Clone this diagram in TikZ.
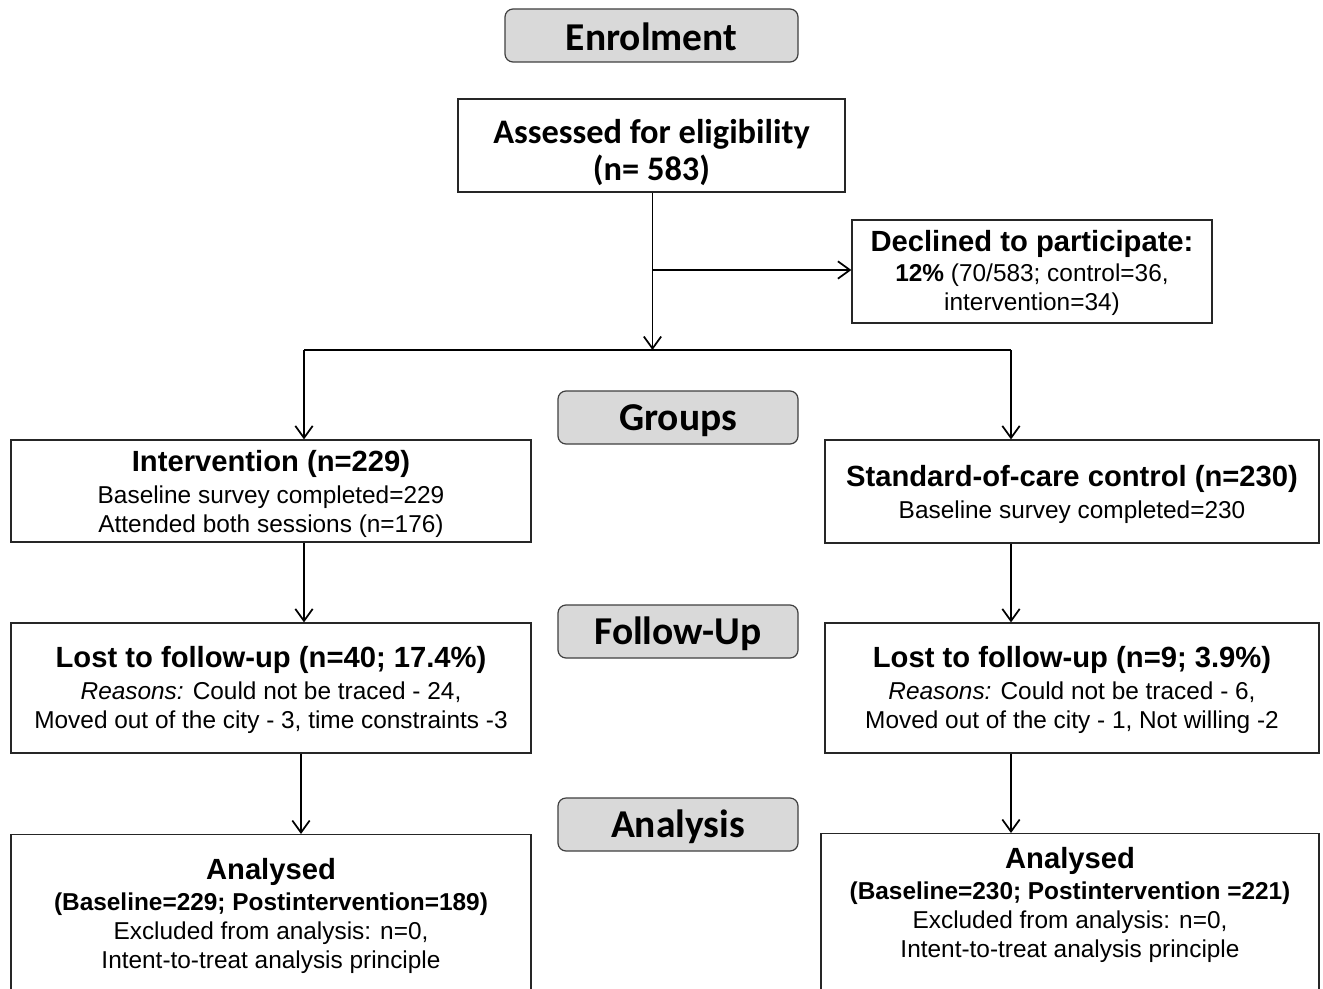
\documentclass[tikz,border=0pt]{standalone}
\usepackage{fontspec}
\setmainfont{Liberation Sans}
\newfontfamily\calfont{Carlito}
\usetikzlibrary{arrows.meta}
\newcommand\bodyfont{\fontsize{18.3}{21.75}\selectfont}
\newcommand\ttlfont{\bfseries\fontsize{21.9}{24}\selectfont}
\begin{document}
\begin{tikzpicture}[x=0.75pt,y=-0.75pt,
  box/.style={draw=black!85, line width=0.9pt, fill=white, align=center, inner sep=0pt, font=\bodyfont},
  txt/.style={align=center, inner sep=0pt, font=\bodyfont},
  hdr/.style={draw=black!75, line width=0.9pt, fill=black!15, rounded corners=6pt, minimum width=240*0.75pt, minimum height=53*0.75pt, inner sep=0pt, text height=19pt, text depth=0pt, font=\calfont\bfseries\fontsize{29.6}{32}\selectfont},
  arr/.style={line width=1.4pt, -{Straight Barb[length=9pt,width=13pt,line width=1.3pt]}},
  ln/.style={line width=1.4pt}
]
\clip (0,0) rectangle (1323,988);
\fill[white] (0,0) rectangle (1323,988);

% headers
\node[hdr, minimum width=293*0.75pt, text height=23pt] (enrol) at (651.5,35.5) {Enrolment};
\node[hdr] (groups) at (678,417.5) {Groups};
\node[hdr] (follow) at (678,631.5) {Follow-Up};
\node[hdr] (analysis) at (678,824.5) {Analysis};

% boxes
\node[box, minimum width=387*0.75pt, minimum height=93*0.75pt, font=\calfont\bfseries\fontsize{25.8}{27.75}\selectfont] (assess) at (651.5,145.5) {\rule{0pt}{28pt}Assessed for eligibility\\(n= 583)};

\node[box, minimum width=360*0.75pt, minimum height=103*0.75pt] (declined) at (1032,271.5)
  {\rule{0pt}{18pt}{\ttlfont Declined to participate:}\\[1pt]\textbf{12\%} (70/583; control=36,\\intervention=34)};

\node[box, minimum width=520*0.75pt, minimum height=102*0.75pt] (interv) at (271,491)
  {\rule{0pt}{20pt}{\ttlfont Intervention (n=229)}\\[2pt]Baseline survey completed=229\\Attended both sessions (n=176)};

\node[box, minimum width=494*0.75pt, minimum height=103*0.75pt] (control) at (1072,491.5)
  {\rule{0pt}{20pt}{\ttlfont Standard-of-care control (n=230)}\\[2pt]Baseline survey completed=230};

\node[box, minimum width=520*0.75pt, minimum height=130*0.75pt] (lostL) at (271,688)
  {\rule{0pt}{19pt}{\ttlfont Lost to follow-up (n=40; 17.4\%)}\\[2pt]\textit{Reasons:} Could not be traced - 24,\\Moved out of the city - 3, time constraints -3};

\node[box, minimum width=494*0.75pt, minimum height=130*0.75pt] (lostR) at (1072,688)
  {\rule{0pt}{19pt}{\ttlfont Lost to follow-up (n=9; 3.9\%)}\\[2pt]\textit{Reasons:} Could not be traced - 6,\\Moved out of the city - 1, Not willing -2};

\node[box, minimum width=520*0.75pt, minimum height=180*0.75pt, anchor=north] (anaL) at (271,834) {};
\node[txt] (anaLt) at (271,916)
  {{\ttlfont Analysed}\\[2pt]\textbf{(Baseline=229; Postintervention=189)}\\Excluded from analysis: n=0,\\Intent-to-treat analysis principle};

\node[box, minimum width=498*0.75pt, minimum height=180*0.75pt, anchor=north] (anaR) at (1070,833) {};
\node[txt] (anaRt) at (1070,905)
  {{\ttlfont Analysed}\\[2pt]\textbf{(Baseline=230; Postintervention =221)}\\Excluded from analysis: n=0,\\Intent-to-treat analysis principle};

% connectors
\coordinate (junc) at (652.5,350);
\coordinate (jl) at (304,350);
\coordinate (jr) at (1011,350);
\coordinate (branch) at (652.5,270);
\draw[arr] (assess.south -| junc) -- (junc);
\draw[arr] (branch) -- (branch -| declined.west);
\draw[ln] (jl) -- (jr);
\draw[arr] (jl) -- (jl |- interv.north);
\draw[arr] (jr) -- (jr |- control.north);
\draw[arr] (interv.south -| jl) -- (jl |- lostL.north);
\draw[arr] (control.south -| jr) -- (jr |- lostR.north);
\coordinate (al) at (301,0);
\draw[arr] (lostL.south -| al) -- (al |- anaL.north);
\draw[arr] (lostR.south -| jr) -- (jr |- anaR.north);
\end{tikzpicture}
\end{document}
